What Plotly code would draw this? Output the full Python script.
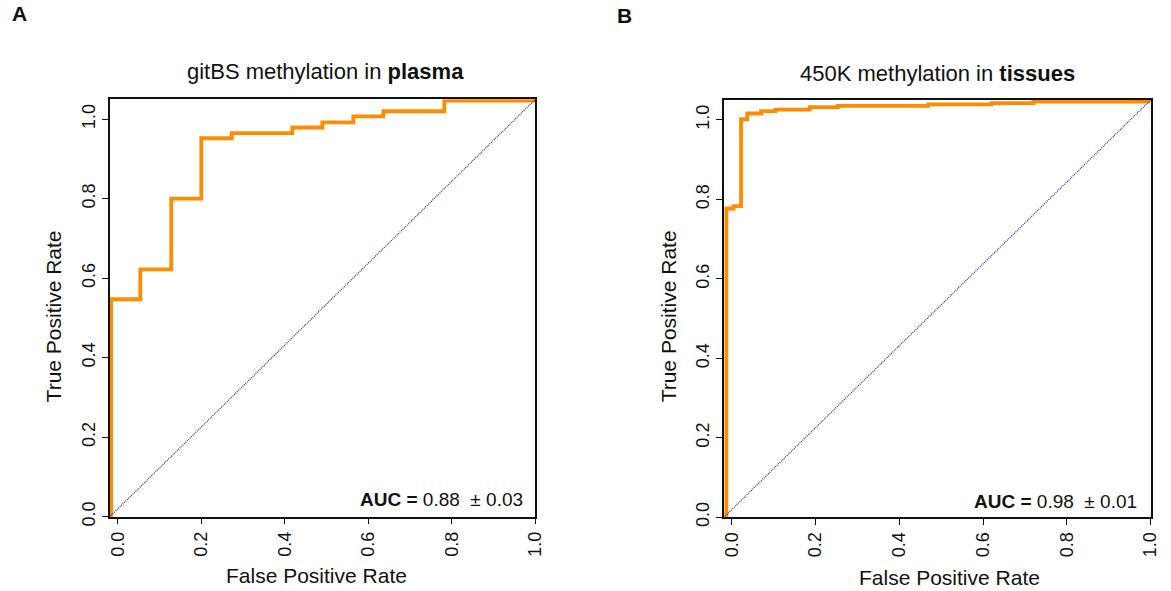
import plotly.graph_objects as go

# ---- data ----
tick_vals = [0.0, 0.2, 0.4, 0.6, 0.8, 1.0]
tick_text = ["0.0", "0.2", "0.4", "0.6", "0.8", "1.0"]

# Panel A: gitBS methylation in plasma (step ROC curve)
fpr_a = [-0.016, 0.054, 0.128, 0.200, 0.273, 0.418, 0.490, 0.564, 0.636, 0.782, 1.000]
tpr_a = [0.000, 0.547, 0.622, 0.800, 0.952, 0.965, 0.979, 0.992, 1.007, 1.020, 1.047]

# Panel B: 450K methylation in tissues (step ROC curve)
fpr_b = [-0.013, 0.004, 0.022, 0.037, 0.070, 0.104, 0.186, 0.253, 0.469, 0.620, 0.720, 1.000]
tpr_b = [0.000, 0.777, 0.783, 1.002, 1.016, 1.022, 1.026, 1.032, 1.035, 1.039, 1.042, 1.046]

auc_a = ("0.88", "0.03")
auc_b = ("0.98", "0.01")

x_range = [-0.019, 1.0]
y_range = [0.0, 1.05]

REF_W, REF_H = 1171, 591      # reference pixel grid used for positions
W, H = 1181, 601              # figure size (the captured page is slightly larger than the window)
FONT = "Liberation Sans, Arial, Helvetica, sans-serif"
ORANGE = "#FF8C00"
DIAG = "#2e2ab0"


def px(x):
    return x / REF_W


def py(y):
    return 1 - y / REF_H


fig = go.Figure()
fig.add_trace(go.Scatter(x=fpr_a, y=tpr_a, mode="lines", line=dict(color=ORANGE, width=3.8, shape="vh"),
                         xaxis="x", yaxis="y", showlegend=False))
fig.add_trace(go.Scatter(x=fpr_b, y=tpr_b, mode="lines", line=dict(color=ORANGE, width=3.8, shape="vh"),
                         xaxis="x2", yaxis="y2", showlegend=False))

axis_common = dict(
    showgrid=False, zeroline=False, showline=True, mirror=True,
    linecolor="#111111", linewidth=1.5, ticks="outside", ticklen=6, tickwidth=1.4,
    tickcolor="#111111", tickvals=tick_vals, ticktext=tick_text, tickangle=-90,
    tickfont=dict(family=FONT, size=18, color="#111111"), fixedrange=True,
)

fig.update_layout(
    width=W, height=H, margin=dict(l=0, r=0, t=0, b=0),
    paper_bgcolor="white", plot_bgcolor="white",
    xaxis=dict(axis_common, domain=[px(108.0), px(534.3)], range=x_range, anchor="y"),
    yaxis=dict(axis_common, domain=[py(516.7), py(99.3)], range=y_range, anchor="x"),
    xaxis2=dict(axis_common, domain=[px(723.1), px(1150.6)], range=x_range, anchor="y2"),
    yaxis2=dict(axis_common, domain=[py(517.3), py(100.0)], range=y_range, anchor="x2"),
)

for xr, yr in (("x", "y"), ("x2", "y2")):
    fig.add_shape(type="line", xref=f"{xr} domain", yref=f"{yr} domain", x0=0, y0=0, x1=1, y1=1,
                  line=dict(color=DIAG, width=1.2, dash="1px,1px"))

ann = []
# panel letters
ann.append(dict(text="<b>A</b>", x=px(8), y=py(0), xanchor="left", yanchor="top", font=dict(size=21)))
ann.append(dict(text="<b>B</b>", x=px(614), y=py(2), xanchor="left", yanchor="top", font=dict(size=21)))
# titles
ann.append(dict(text="gitBS methylation in <b>plasma</b>", x=px(323.6), y=py(86), xanchor="center",
                yanchor="bottom", font=dict(size=22)))
ann.append(dict(text="450K methylation in <b>tissues</b>", x=px(937.4), y=py(87.7), xanchor="center",
                yanchor="bottom", font=dict(size=22)))
# axis titles
ann.append(dict(text="False Positive Rate", x=px(315), y=py(575), xanchor="center", yanchor="middle",
                font=dict(size=21)))
ann.append(dict(text="False Positive Rate", x=px(949.6), y=py(577), xanchor="center", yanchor="middle",
                font=dict(size=21)))
ann.append(dict(text="True Positive Rate", x=px(52), y=py(316.5), xanchor="center", yanchor="middle",
                textangle=-90, font=dict(size=21)))
ann.append(dict(text="True Positive Rate", x=px(668), y=py(316.5), xanchor="center", yanchor="middle",
                textangle=-90, font=dict(size=21)))
# AUC labels
ann.append(dict(text=f"<b>AUC =</b> {auc_a[0]}  \u00b1 {auc_a[1]}", x=px(524), y=py(512), xanchor="right",
                yanchor="bottom", font=dict(size=19)))
ann.append(dict(text=f"<b>AUC =</b> {auc_b[0]}  \u00b1 {auc_b[1]}", x=px(1139), y=py(514), xanchor="right",
                yanchor="bottom", font=dict(size=19)))

for a in ann:
    a.update(xref="paper", yref="paper", showarrow=False)
    a["font"].update(family=FONT, color="#111111")
fig.update_layout(annotations=ann)

fig.write_html("out.html", config={"displayModeBar": False},
               post_script="document.documentElement.style.margin='0px';document.body.style.margin='0px';")
